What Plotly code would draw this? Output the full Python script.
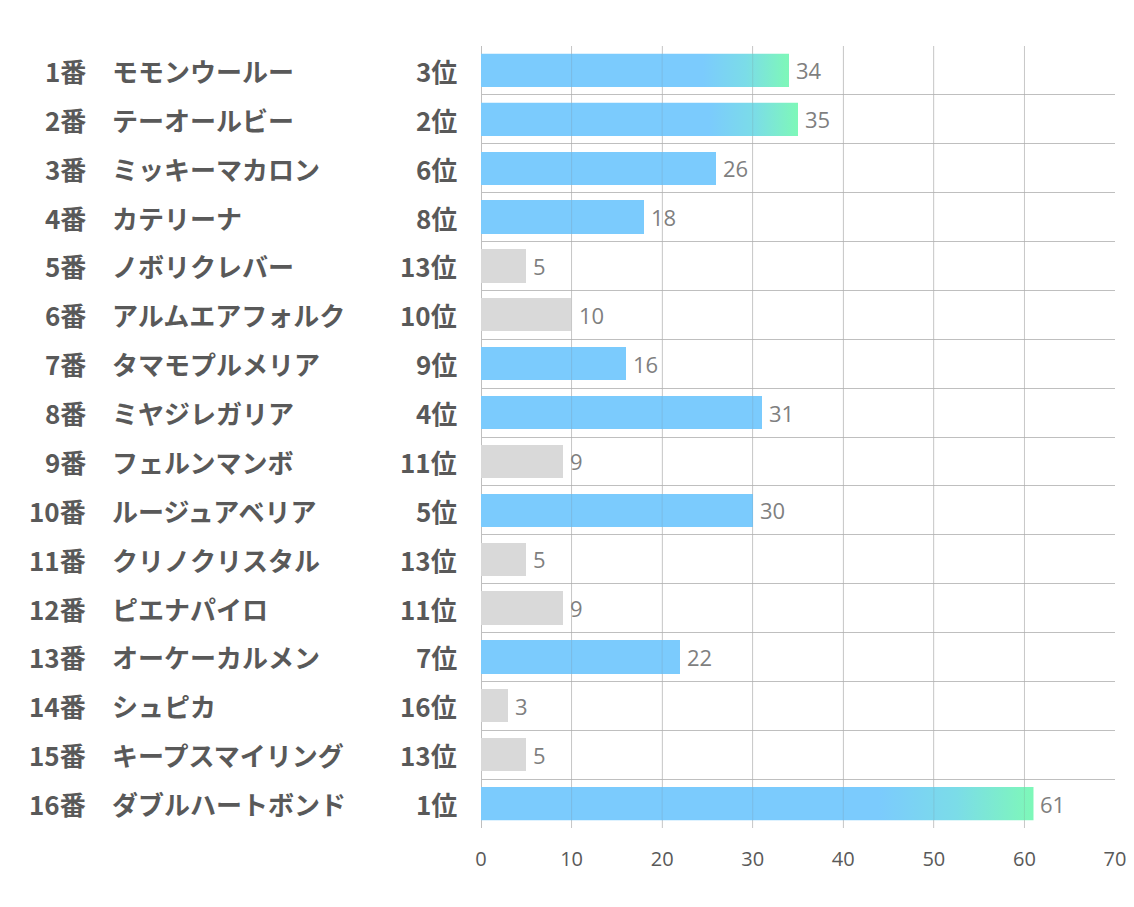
import plotly.graph_objects as go

numbers = ["1番", "2番", "3番", "4番", "5番", "6番", "7番", "8番",
           "9番", "10番", "11番", "12番", "13番", "14番", "15番", "16番"]
names = ["モモンウールー", "テーオールビー", "ミッキーマカロン", "カテリーナ", "ノボリクレバー",
         "アルムエアフォルク", "タマモプルメリア", "ミヤジレガリア", "フェルンマンボ", "ルージュアベリア",
         "クリノクリスタル", "ピエナパイロ", "オーケーカルメン", "シュピカ", "キープスマイリング",
         "ダブルハートボンド"]
ranks = ["3位", "2位", "6位", "8位", "13位", "10位", "9位", "4位",
         "11位", "5位", "13位", "11位", "7位", "16位", "13位", "1位"]
values = [34, 35, 26, 18, 5, 10, 16, 31, 9, 30, 5, 9, 22, 3, 5, 61]
highlight = [True, True, True, True, False, False, True, True, False, True, False, False, True, False, False, True]
gradient = [True, True, False, False, False, False, False, False, False, False, False, False, False, False, False, True]
xticks = [0, 10, 20, 30, 40, 50, 60, 70]

BLUE = "#7BCBFD"
MID = "#7BDCE8"
GREEN = "#7EF8B8"
GRAY = "#D9D9D9"
TXT = "#595959"
BW = 0.68

OFF = 8  # page offset of the plot div
W, H = 1134 - OFF, 907 - OFF
L, T = 481 - OFF, 46 - OFF
R = W - (1115 - OFF)
B = H - (828 - OFF)
pw = W - L - R

def px2paper(px):
    return (px - OFF - L) / pw

ys = list(range(len(values)))
fig = go.Figure()
fig.add_trace(go.Bar(
    x=values, y=ys, orientation="h", width=BW,
    marker=dict(color=[BLUE if h else GRAY for h in highlight], line=dict(width=0)),
    hoverinfo="skip", showlegend=False))

for i, (v, g) in enumerate(zip(values, gradient)):
    if not g:
        continue
    fig.add_trace(go.Scatter(
        x=[0, v, v, 0, 0], y=[i - BW / 2, i - BW / 2, i + BW / 2, i + BW / 2, i - BW / 2],
        mode="none", fill="toself",
        fillgradient=dict(type="horizontal",
                          colorscale=[[0, BLUE], [0.72, BLUE], [0.86, MID], [1, GREEN]]),
        hoverinfo="skip", showlegend=False))

ann = []
font_lbl = dict(family="Noto Sans CJK JP", size=26, color=TXT)
for i in ys:
    ann.append(dict(x=px2paper(88), y=i, xref="paper", yref="y", text="<b>%s</b>" % numbers[i],
                    showarrow=False, xanchor="right", yanchor="middle", font=font_lbl))
    ann.append(dict(x=px2paper(110), y=i, xref="paper", yref="y", text="<b>%s</b>" % names[i],
                    showarrow=False, xanchor="left", yanchor="middle", font=font_lbl))
    ann.append(dict(x=px2paper(459), y=i, xref="paper", yref="y", text="<b>%s</b>" % ranks[i],
                    showarrow=False, xanchor="right", yanchor="middle", font=font_lbl))
    ann.append(dict(x=values[i], y=i, xref="x", yref="y", text=str(values[i]),
                    showarrow=False, xanchor="left", yanchor="middle", xshift=5,
                    font=dict(family="Open Sans", size=22, color="#7F7F7F")))

shapes = [dict(type="line", xref="x", yref="paper", x0=t, x1=t, y0=0, y1=1, layer="above",
               line=dict(color="rgba(120,120,120,0.18)", width=1)) for t in xticks[1:-1]]

fig.update_layout(
    width=W, height=H,
    margin=dict(l=L, r=R, t=T, b=B, autoexpand=False),
    paper_bgcolor="white", plot_bgcolor="white",
    annotations=ann, shapes=shapes,
    bargap=0,
    xaxis=dict(range=[xticks[0], xticks[-1]], tickmode="array", tickvals=xticks,
               showgrid=True, gridcolor="#D9D9D9", gridwidth=1,
               zeroline=True, zerolinecolor="#BFBFBF", zerolinewidth=1,
               showline=False, ticks="outside", ticklen=13, tickcolor="rgba(0,0,0,0)",
               tickfont=dict(family="Open Sans", size=20, color=TXT), fixedrange=True),
    yaxis=dict(range=[len(values) - 0.5, -0.5], tickmode="array",
               tickvals=[k - 0.5 for k in range(len(values) + 1)],
               showticklabels=False, showgrid=True, gridcolor="#BFBFBF", gridwidth=1,
               zeroline=False, showline=False, ticks="", fixedrange=True),
)

fig.write_html("out.html")
